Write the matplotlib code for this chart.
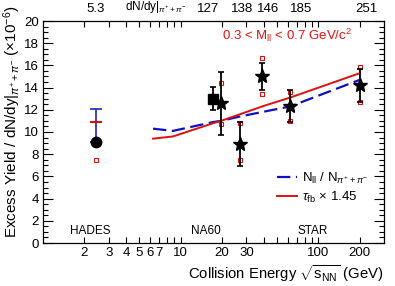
import matplotlib
matplotlib.use("Agg")
import matplotlib.pyplot as plt
import numpy as np

plt.rcParams['font.family'] = ['Liberation Sans', 'DejaVu Sans']
plt.rcParams['mathtext.fontset'] = 'custom'
plt.rcParams['mathtext.rm'] = 'Liberation Sans'
plt.rcParams['mathtext.it'] = 'Liberation Sans:italic'
plt.rcParams['mathtext.sf'] = 'Liberation Sans'

# HADES point
hades_e = [2.42]
hades_y = [9.1]
hades_stat_up = [3.0]
hades_stat_dn = [0.0]
hades_sys_lo = [7.5]
hades_sys_hi = [10.9]

# NA60 point
na60_e = [17.3]
na60_y = [13.0]
na60_err = [1.05]

# STAR points
star_e = [19.6, 27.0, 39.0, 62.4, 200.0]
star_y = [12.6, 8.9, 15.0, 12.3, 14.2]
star_err_lo = [2.9, 2.0, 1.2, 1.4, 1.5]
star_err_hi = [2.8, 2.0, 1.2, 1.5, 1.5]
star_sys_lo = [10.7, 7.5, 13.4, 11.0, 12.7]
star_sys_hi = [14.4, 10.8, 16.7, 13.6, 15.9]

# model curves
model_e = [6.3, 8.8, 17.3, 19.6, 27.0, 39.0, 62.4, 200.0]
nll_ratio = [10.3, 10.1, 10.9, 11.0, 11.4, 11.8, 12.3, 14.7]
tau_fb = [9.4, 9.6, 10.8, 11.0, 11.6, 12.3, 13.1, 15.3]

# top axis dN/dy labels
dndy_labels = ['5.3', '127', '138', '146', '185', '251']
dndy_pos = [2.42, 15.7, 27.9, 43.0, 75.0, 224.0]

fig = plt.figure(figsize=(3.95, 2.86), dpi=100)
ax = fig.add_axes([43/395, 1-243/286, (384-43)/395, (243-21)/286])

ax.plot(model_e, nll_ratio, color='#1010c0', ls=(0, (6, 2.5)), lw=1.6,
        label=r'N$_{\mathrm{ll}}$ / N$_{\pi^{+}+\pi^{-}}$')
ax.plot(model_e, tau_fb, color='#dd1010', lw=1.4, label=r'$\tau_{\mathrm{fb}}$ $\times$ 1.45')

# HADES
ax.errorbar(hades_e, hades_y, yerr=[hades_stat_dn, hades_stat_up], fmt='none',
            ecolor='#2020c0', elinewidth=1.2, capsize=4, capthick=1.2)
ax.plot(hades_e, hades_sys_hi, marker='_', color='#dd1010', ms=8, mew=1.5, ls='none')
ax.plot(hades_e, hades_sys_lo, marker='s', ms=2.2, mfc='none', mec='#dd1010', mew=0.8, ls='none')
ax.plot(hades_e, hades_y, 'o', color='k', ms=7.5)

# NA60
ax.errorbar(na60_e, na60_y, yerr=na60_err, fmt='s', color='k', ms=6.5,
            elinewidth=1.3, capsize=2, capthick=1.2)

# STAR
ax.plot(star_e, star_sys_hi, marker='s', ms=2.2, mfc='none', mec='#dd1010', mew=0.8, ls='none')
ax.plot(star_e, star_sys_lo, marker='s', ms=2.2, mfc='none', mec='#dd1010', mew=0.8, ls='none')
ax.errorbar(star_e, star_y, yerr=[star_err_lo, star_err_hi], fmt='*', color='k', ms=10.5,
            elinewidth=1.3, capsize=2, capthick=1.2)

ax.set_xscale('log')
ax.set_xlim(1, 300)
ax.set_ylim(0, 20)

major_x = [2, 3, 4, 5, 6, 7, 10, 20, 30, 100, 200]
minor_x = [8, 9, 40, 50, 60, 70, 80, 90]
ax.set_xticks(major_x)
ax.set_xticklabels(['2', '3', '4', '5', '6', '7', '10', '20', '30', '100', '200'])
ax.set_xticks(minor_x, minor=True)
ax.set_yticks(np.arange(0, 21, 2))
ax.set_yticks(np.arange(0, 20.1, 0.5), minor=True)
ax.tick_params(which='both', direction='in', top=True, right=True, labelsize=9.5, pad=3)
ax.tick_params(which='major', length=7, width=0.8)
ax.tick_params(which='minor', length=3.5, width=0.8)
ax.tick_params(axis='x', which='major', length=4.5)
ax.tick_params(axis='x', which='minor', length=4.5)
for s in ax.spines.values():
    s.set_linewidth(0.9)

# top axis labels
for lab, xp in zip(dndy_labels, dndy_pos):
    ax.text(xp, 1.025, lab, transform=ax.get_xaxis_transform(), ha='center', va='bottom', fontsize=9.5)
ax.text(10**((125-43)/137), 1.025, r'dN/dy$|_{\pi^{+}+\pi^{-}}$', transform=ax.get_xaxis_transform(),
        ha='left', va='bottom', fontsize=8.5)

ax.text(0.906, 0.935, r'0.3 < M$_{\mathrm{ll}}$ < 0.7 GeV/c$^{2}$', transform=ax.transAxes,
        color='#ee1010', ha='right', va='center', fontsize=9.5)

ax.text(2.2, 1.1, 'HADES', ha='center', va='center', fontsize=8.5)
ax.text(15.2, 1.1, 'NA60', ha='center', va='center', fontsize=8.5)
ax.text(91.5, 1.1, 'STAR', ha='center', va='center', fontsize=8.5)

ax.legend(loc='center left', bbox_to_anchor=(0.67, 0.25), frameon=False, fontsize=9.5,
          handlelength=1.5, handletextpad=0.4, labelspacing=0.3, borderaxespad=0.0)

ax.set_xlabel(r'Collision Energy $\sqrt{\mathrm{s_{NN}}}$ (GeV)', fontsize=10.7, ha='right', x=1.0, labelpad=3)
fig.text(12/395, 1-5/286, r'Excess Yield / dN/dy$|_{\pi^{+}+\pi^{-}}$ (×10$^{-6}$)',
         rotation=90, ha='center', va='top', fontsize=11)

fig.savefig('out.png', dpi=100)
